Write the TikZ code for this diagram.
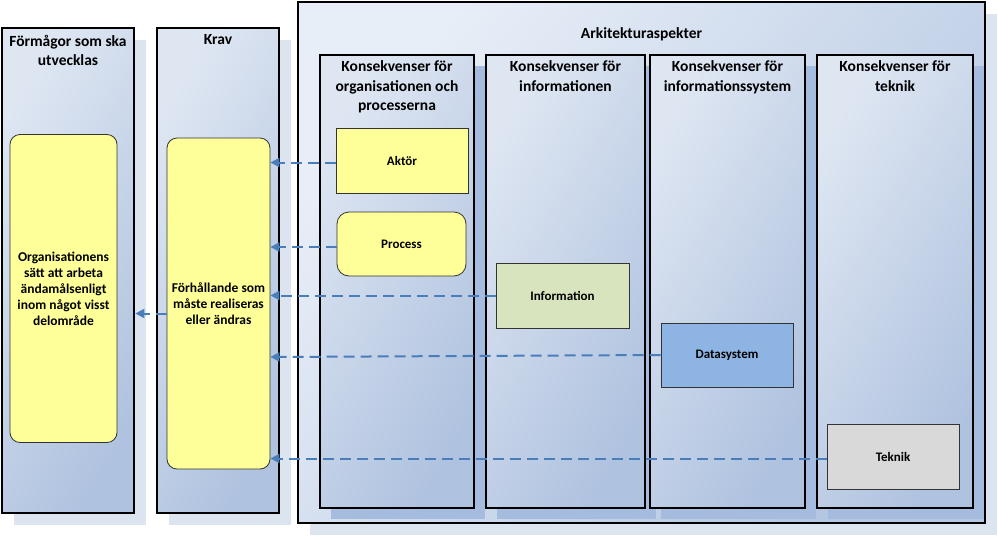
\documentclass[tikz,border=0pt]{standalone}
\usepackage{fontspec}
\setmainfont{Carlito}
\usepackage{xcolor}
\usetikzlibrary{positioning,shadows,arrows.meta}
\definecolor{boxlight}{HTML}{DEE6F2}
\definecolor{boxdark}{HTML}{AFC2DF}
\definecolor{outerlight}{HTML}{E8EEF7}
\definecolor{outerdark}{HTML}{B3C6E2}
\definecolor{shadowlight}{HTML}{DCE4F0}
\definecolor{shadowdark}{HTML}{A5BCDE}
\definecolor{noteyellow}{HTML}{FFFF99}
\definecolor{infogreen}{HTML}{D7E4BD}
\definecolor{datablue}{HTML}{8EB4E3}
\definecolor{teknikgray}{HTML}{D9D9D9}
\definecolor{flowblue}{HTML}{4A7EBB}

\begin{document}
\begin{tikzpicture}[x=1pt, y=-1pt, font=\bfseries,
    column/.style={draw=black, line width=2.6pt, inner sep=0pt,
      top color=boxlight, bottom color=boxdark, shading angle=60},
    outershadow/.style={drop shadow={shadow xshift=12pt, shadow yshift=-12pt,
      fill=shadowlight, opacity=1}},
    innershadow/.style={drop shadow={shadow xshift=11pt, shadow yshift=-11pt,
      fill=shadowdark, opacity=1}},
    title/.style={font=\bfseries\fontsize{15.5}{19.5}\selectfont, align=center,
      anchor=north, inner sep=0pt},
    note/.style={draw=black!80, line width=0.8pt, fill=noteyellow, rounded corners=10pt,
      align=center, inner sep=0pt, font=\bfseries\fontsize{13.5}{16}\selectfont},
    part/.style={draw=black!80, line width=0.8pt, inner sep=0pt,
      minimum width=132pt, minimum height=65pt, font=\bfseries\fontsize{13}{15}\selectfont},
    flow/.style={draw=flowblue, line width=2pt, dash pattern=on 11pt off 6pt,
      -{Triangle[length=9pt, width=9pt]}}]
  \useasboundingbox (0,0) rectangle (998,536);

  \node[column, outershadow, minimum width=132pt, minimum height=485pt] (formagor) at (68, 270.5) {};
  \node[column, outershadow, minimum width=122pt, minimum height=485pt] (krav) at (218, 270.5) {};
  \node[column, outershadow, minimum width=687pt, minimum height=521pt,
        top color=outerlight, bottom color=outerdark, shading angle=50] (arkitektur) at (641.5, 262.5) {};

  \node[title, below=8pt of formagor.north] (formagortext) {Förmågor som ska\\utvecklas};
  \node[title, below=8pt of krav.north] (kravtext) {Krav};
  \node[title, below=27pt of arkitektur.north] (arkitekturtext) {Arkitekturaspekter};

  \node[column, innershadow, minimum width=154pt, minimum height=453pt] (orgcol) at (397, 281.5) {};
  \node[column, innershadow, minimum width=159pt, minimum height=453pt] (infocol) at (565.5, 281.5) {};
  \node[column, innershadow, minimum width=155pt, minimum height=453pt] (syscol) at (727.5, 281.5) {};
  \node[column, innershadow, minimum width=156pt, minimum height=453pt] (tekcol) at (895, 281.5) {};

  \node[title, below=7pt of orgcol.north] (orgtext) {Konsekvenser för\\organisationen och\\processerna};
  \node[title, below=7pt of infocol.north] (infotext) {Konsekvenser för\\informationen};
  \node[title, below=7pt of syscol.north] (systext) {Konsekvenser för\\informationssystem};
  \node[title, below=7pt of tekcol.north] (tektext) {Konsekvenser för\\teknik};

  \node[note, minimum width=107pt, minimum height=308pt] (formagorinner) at (63.5, 288.5)
    {Organisationens\\sätt att arbeta\\ändamålsenligt\\inom något visst\\delområde};
  \node[note, minimum width=103pt, minimum height=331pt] (kravinner) at (218.5, 303.5)
    {Förhållande som\\måste realiseras\\eller ändras};

  \node[part, fill=noteyellow] (aktor) at (402, 160.5) {Aktör};
  \node[part, fill=noteyellow, rounded corners=12pt, minimum width=129pt, minimum height=64pt] (process) at (401.5, 244) {Process};
  \node[part, fill=infogreen, minimum width=133pt] (information) at (562.5, 295.5) {Information};
  \node[part, fill=datablue, minimum height=64pt] (datasystem) at (727, 355) {Datasystem};
  \node[part, fill=teknikgray] (teknik) at (893, 456.5) {Teknik};

  \draw[flow] ([yshift=-2pt]aktor.west) -- ([yshift=-2pt]aktor.west -| kravinner.east);
  \draw[flow] ([yshift=-3pt]process.west) -- ([yshift=-3pt]process.west -| kravinner.east);
  \draw[flow] (information.west) -- (information.west -| kravinner.east);
  \draw[flow] (datasystem.west) -- ([yshift=-2pt]datasystem.west -| kravinner.east);
  \draw[flow] ([yshift=-2pt]teknik.west) -- ([yshift=-2pt]teknik.west -| kravinner.east);
  \draw[flow] ([yshift=-10pt]kravinner.west) -- ([yshift=-10pt]kravinner.west -| formagor.east);
\end{tikzpicture}
\end{document}
